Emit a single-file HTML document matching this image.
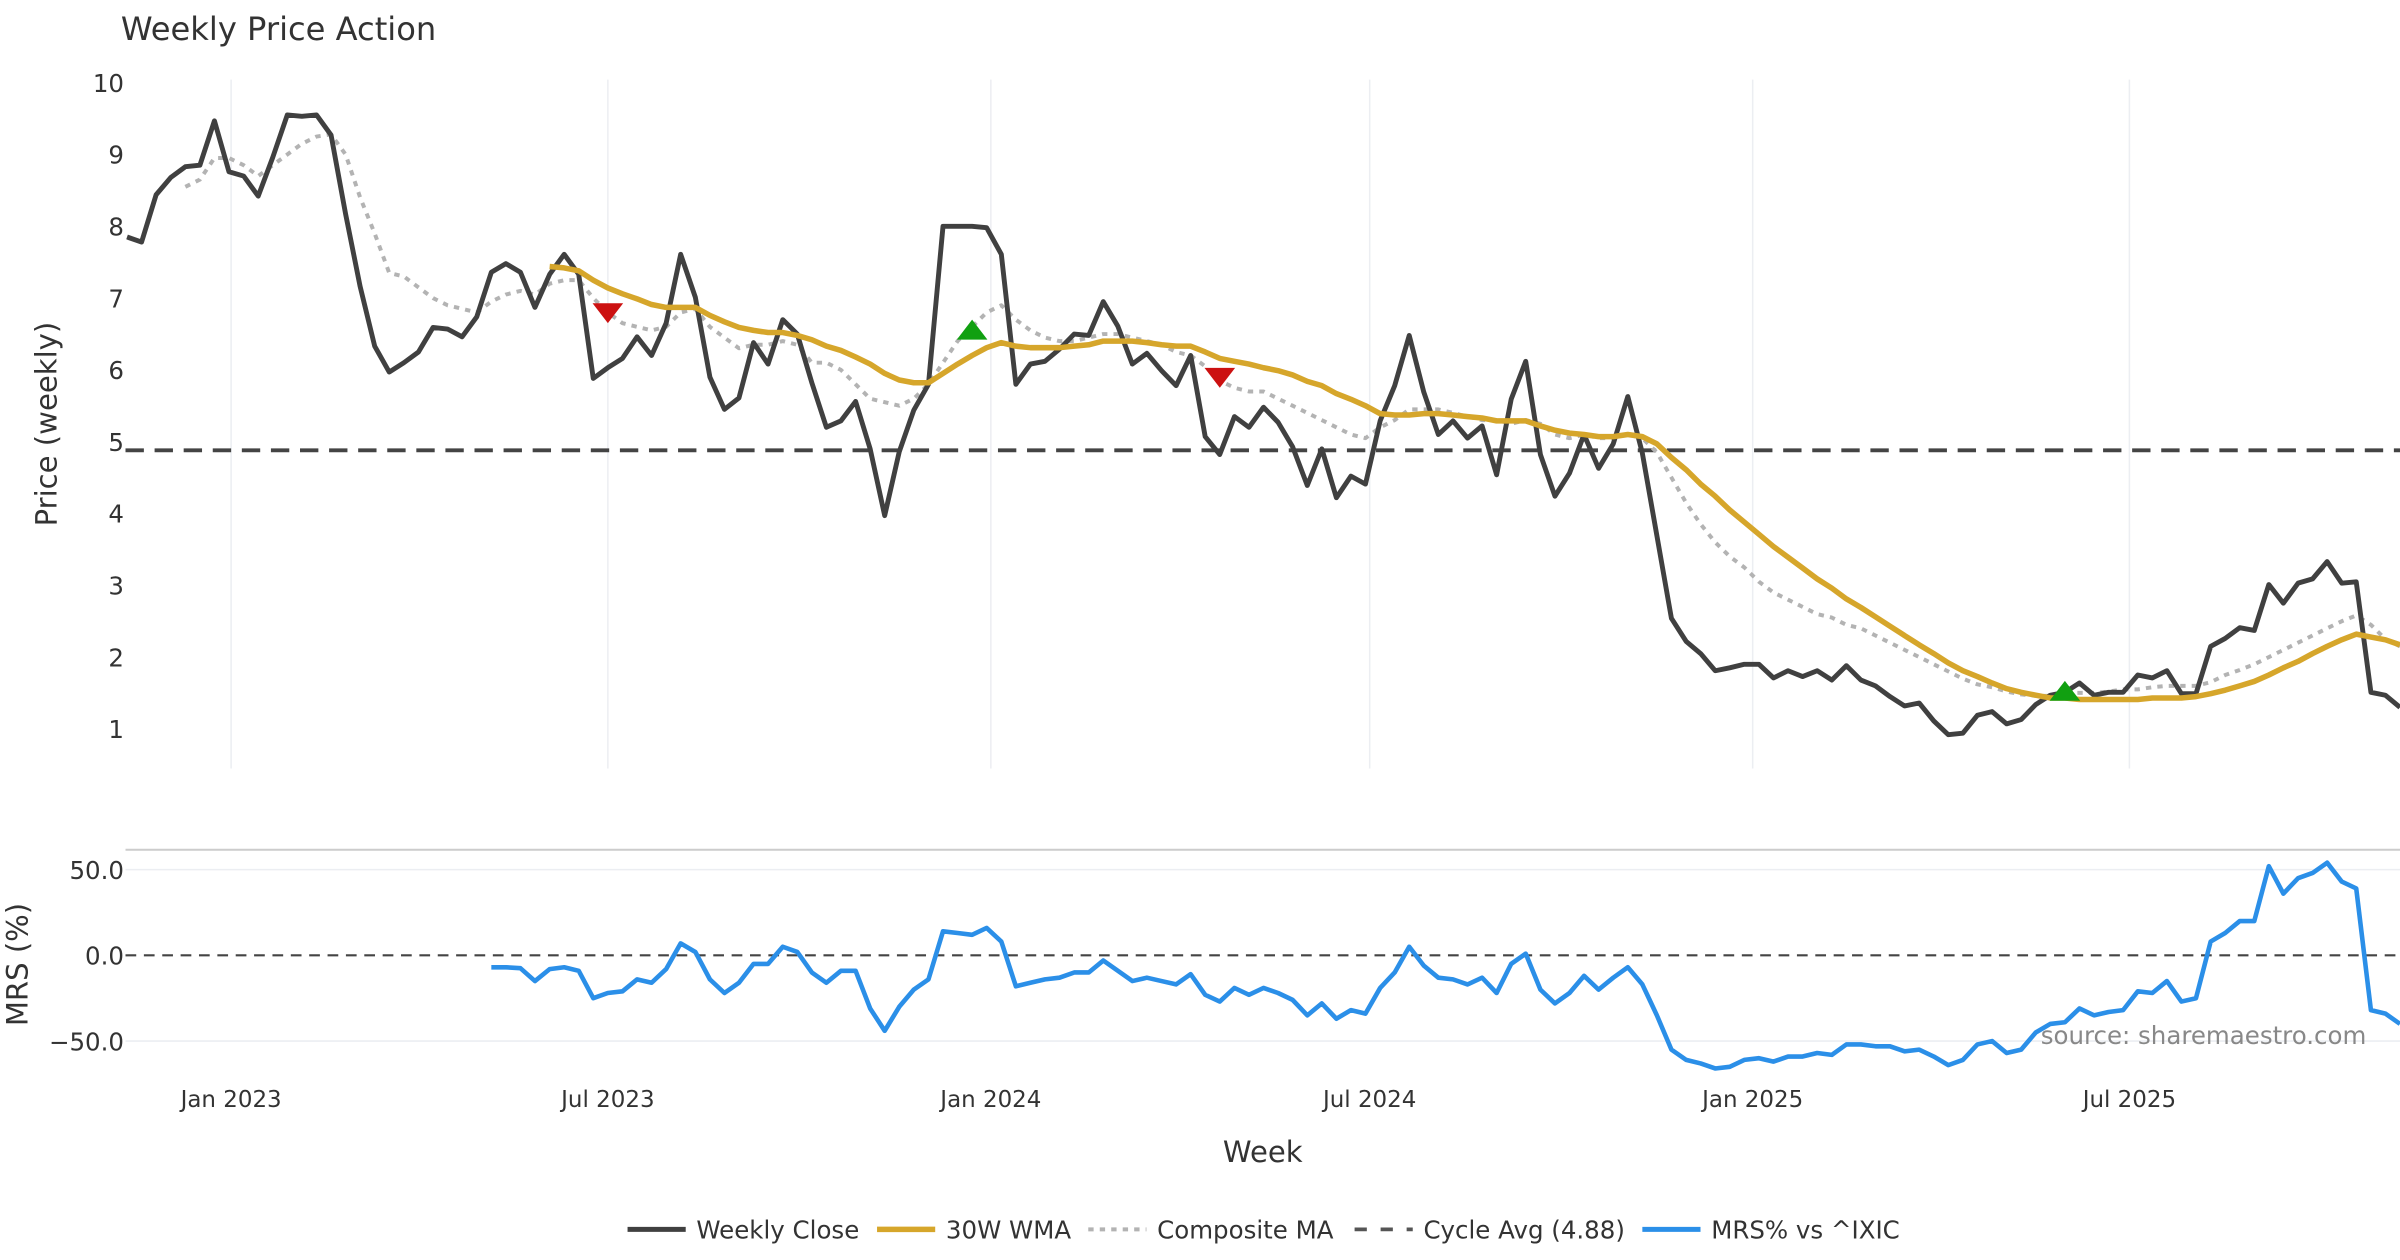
<!DOCTYPE html>
<html><head><meta charset="utf-8"><style>
html,body{margin:0;padding:0;background:#fff;}
svg{display:block;font-family:"DejaVu Sans","Liberation Sans",sans-serif;}
</style></head><body>
<svg id="chart" width="2400" height="1260" viewBox="0 0 1568 823" preserveAspectRatio="none" xmlns="http://www.w3.org/2000/svg">
<text x="79" y="26" font-size="21" fill="#333">Weekly Price Action</text>
<g id="grid"></g>
<g id="axes"></g>
<g id="series"></g>
<g id="legend"></g>
</svg>
<script>
const closes=[7.85,7.78,8.44,8.68,8.83,8.85,9.47,8.76,8.7,8.42,8.96,9.55,9.53,9.55,9.27,8.17,7.16,6.33,5.97,6.1,6.25,6.59,6.57,6.46,6.74,7.36,7.48,7.36,6.87,7.33,7.61,7.33,5.88,6.03,6.16,6.46,6.2,6.65,7.61,7.01,5.9,5.45,5.61,6.38,6.08,6.7,6.5,5.82,5.2,5.29,5.56,4.9,3.97,4.86,5.44,5.8,8.0,8.0,8.0,7.98,7.61,5.8,6.08,6.12,6.29,6.5,6.48,6.95,6.61,6.08,6.23,5.99,5.78,6.2,5.07,4.82,5.35,5.2,5.48,5.27,4.93,4.39,4.9,4.22,4.52,4.41,5.29,5.78,6.48,5.69,5.1,5.29,5.05,5.22,4.54,5.59,6.12,4.82,4.24,4.56,5.1,4.63,4.97,5.63,4.84,3.69,2.54,2.22,2.05,1.81,1.85,1.9,1.9,1.71,1.81,1.73,1.81,1.68,1.88,1.68,1.6,1.45,1.32,1.36,1.11,0.92,0.94,1.19,1.24,1.07,1.13,1.34,1.47,1.51,1.64,1.47,1.51,1.51,1.75,1.71,1.81,1.49,1.49,2.15,2.26,2.41,2.37,3.01,2.75,3.03,3.09,3.33,3.03,3.05,1.51,1.47,1.3];
const wma=[7.44,7.42,7.38,7.25,7.14,7.06,6.99,6.91,6.87,6.87,6.87,6.76,6.67,6.59,6.55,6.52,6.52,6.48,6.42,6.33,6.27,6.18,6.08,5.95,5.86,5.82,5.82,5.95,6.08,6.2,6.31,6.38,6.33,6.31,6.31,6.31,6.33,6.35,6.4,6.4,6.4,6.38,6.35,6.33,6.33,6.25,6.16,6.12,6.08,6.03,5.99,5.93,5.84,5.78,5.67,5.59,5.5,5.39,5.37,5.37,5.39,5.39,5.37,5.35,5.33,5.29,5.29,5.29,5.22,5.16,5.12,5.1,5.07,5.07,5.1,5.07,4.97,4.78,4.61,4.41,4.24,4.05,3.88,3.71,3.54,3.39,3.24,3.09,2.96,2.81,2.69,2.56,2.43,2.3,2.17,2.05,1.92,1.81,1.73,1.64,1.56,1.51,1.47,1.43,1.43,1.41,1.41,1.41,1.41,1.41,1.43,1.43,1.43,1.45,1.49,1.54,1.6,1.66,1.75,1.85,1.94,2.05,2.15,2.24,2.32,2.28,2.24,2.17];
const composite=[8.55,8.65,8.95,8.95,8.85,8.7,8.85,9.0,9.15,9.25,9.28,9.0,8.4,7.9,7.35,7.3,7.15,7.0,6.9,6.85,6.8,6.95,7.05,7.1,7.05,7.2,7.25,7.25,7.0,6.8,6.65,6.6,6.55,6.6,6.8,6.85,6.6,6.45,6.3,6.35,6.35,6.4,6.35,6.1,6.1,6.0,5.8,5.6,5.55,5.5,5.6,5.8,6.1,6.4,6.6,6.8,6.9,6.7,6.55,6.45,6.4,6.4,6.45,6.5,6.5,6.45,6.4,6.35,6.25,6.2,6.05,5.85,5.75,5.7,5.7,5.6,5.5,5.4,5.3,5.2,5.1,5.05,5.2,5.3,5.45,5.45,5.45,5.4,5.35,5.3,5.3,5.25,5.3,5.25,5.1,5.05,5.1,5.05,5.05,5.1,5.05,4.85,4.5,4.15,3.85,3.6,3.4,3.25,3.05,2.9,2.8,2.7,2.6,2.55,2.45,2.4,2.3,2.2,2.1,2.0,1.9,1.8,1.7,1.62,1.58,1.52,1.48,1.46,1.46,1.5,1.5,1.5,1.52,1.55,1.55,1.58,1.6,1.6,1.6,1.65,1.75,1.82,1.9,2.0,2.1,2.2,2.3,2.4,2.5,2.58,2.45,2.25,2.15];
const mrs=[-7,-7,-7.5,-15,-8,-7,-9,-25,-22,-21,-14,-16,-8,7,2,-14,-22,-16,-5,-5,5,2,-10,-16,-9,-9,-31,-44,-30,-20,-14,14,13,12,16,8,-18,-16,-14,-13,-10,-10,-3,-9,-15,-13,-15,-17,-11,-23,-27,-19,-23,-19,-22,-26,-35,-28,-37,-32,-34,-19,-10,5,-6,-13,-14,-17,-13,-22,-5,1,-20,-28,-22,-12,-20,-13,-7,-17,-35,-55,-61,-63,-66,-65,-61,-60,-62,-59,-59,-57,-58,-52,-52,-53,-53,-56,-55,-59,-64,-61,-52,-50,-57,-55,-45,-40,-39,-31,-35,-33,-32,-21,-22,-15,-27,-25,8,13,20,20,52,36,45,48,54,43,39,-32,-34,-40];
const cycleAvg=4.88;
const priceTicks=[1,2,3,4,5,6,7,8,9,10];
const mrsTicks=[50,0,-50];
const mrsTickLabels=["50.0","0.0","\u221250.0"];
const dateTicks=["2023-01-01","2023-07-01","2024-01-01","2024-07-01","2025-01-01","2025-07-01"];
const dateTickLabels=["Jan 2023","Jul 2023","Jan 2024","Jul 2024","Jan 2025","Jul 2025"];
const startDate="2022-11-12";
const sellIdx=[33,75], sellPrice=[6.8,5.9];
const buyIdx=[58,133], buyPrice=[6.55,1.52];

const NS="http://www.w3.org/2000/svg";
const n=closes.length, X0=83, X1=1568, step=(X1-X0)/(n-1);
const x=i=>X0+i*step;
const xDate=d=>x((new Date(d)-new Date(startDate))/86400000/7);
const yP=v=>54+(10-v)*46.9;
const yM=v=>624-v*1.12;
function el(tag,attrs,parent){const e=document.createElementNS(NS,tag);for(const k in attrs)e.setAttribute(k,attrs[k]);parent.appendChild(e);return e;}
const grid=document.getElementById('grid'),axes=document.getElementById('axes'),ser=document.getElementById('series'),leg=document.getElementById('legend');

dateTicks.forEach((d,k)=>{
  const gx=xDate(d);
  const g1=el('line',{x1:gx,x2:gx,y1:52,y2:502,stroke:'#eceef2','stroke-width':1},grid);
  
  
  const t=el('text',{x:gx,y:723,'font-size':15,fill:'#333','text-anchor':'middle'},axes);
  t.textContent=dateTickLabels[k];
  
  
});
priceTicks.forEach(v=>{
  const t=el('text',{x:81,y:yP(v)+6,'font-size':16,fill:'#333','text-anchor':'end'},axes);
  t.textContent=v;
  
  
});
mrsTicks.forEach((v,k)=>{
  if(v!==0){const gl=el('line',{x1:82,x2:1568,y1:yM(v),y2:yM(v),stroke:'#eceef2','stroke-width':1},grid);
  
  }
  const t=el('text',{x:81,y:yM(v)+6,'font-size':16,fill:'#333','text-anchor':'end'},axes);
  t.textContent=mrsTickLabels[k];
  
  
});
const sep=el('line',{x1:82,x2:1568,y1:555,y2:555,stroke:'#cccccc','stroke-width':1.3},axes);


const yl=el('text',{x:0,y:0,'font-size':19,fill:'#333','text-anchor':'middle',transform:'translate(37,277) rotate(-90)'},axes);
yl.textContent='Price (weekly)';


const yl2=el('text',{x:0,y:0,'font-size':19,fill:'#333','text-anchor':'middle',transform:'translate(18,630) rotate(-90)'},axes);
yl2.textContent='MRS (%)';


const xl=el('text',{x:825,y:759,'font-size':19,fill:'#333','text-anchor':'middle'},axes);
xl.textContent='Week';


const src=el('text',{x:1546,y:682,'font-size':16,fill:'#888','text-anchor':'end'},axes);
src.textContent='source: sharemaestro.com';



const zl=el('line',{x1:82,x2:1568,y1:yM(0),y2:yM(0),stroke:'#444','stroke-width':1.4,'stroke-dasharray':'7,5'},ser);


const cl=el('line',{x1:82,x2:1568,y1:yP(cycleAvg),y2:yP(cycleAvg),stroke:'#444','stroke-width':2.5,'stroke-dasharray':'12,7'},ser);



function path(arr,yf,attrs,name){
  const off=n-arr.length;
  const d=arr.map((v,i)=>(i?'L':'M')+x(i+off).toFixed(1)+','+yf(v).toFixed(1)).join('');
  const p=el('path',Object.assign({d:d,fill:'none','stroke-linejoin':'round'},attrs),ser);
  
  
}
path(composite,yP,{stroke:'#b3b3b3','stroke-width':2.6,'stroke-dasharray':'3.5,4'},'composite-ma-line');
path(closes,yP,{stroke:'#404040','stroke-width':3.2},'weekly-close-line');
path(wma,yP,{stroke:'#d6a62b','stroke-width':3.6},'wma-30w-line');
path(mrs,yM,{stroke:'#2b8fe8','stroke-width':3},'mrs-line');

sellIdx.forEach((ix,k)=>{
  const cx=x(ix),cy=yP(sellPrice[k]);
  const t=el('polygon',{points:`${cx-10},${cy-6} ${cx+10},${cy-6} ${cx},${cy+7}`,fill:'#cc1111'},ser);
  
  
});
buyIdx.forEach((ix,k)=>{
  const cx=x(ix),cy=yP(buyPrice[k]);
  const t=el('polygon',{points:`${cx-10},${cy+6} ${cx+10},${cy+6} ${cx},${cy-7}`,fill:'#11a011'},ser);
  
  
});

const items=[
 {x:410,label:'Weekly Close',stroke:'#404040',dash:'',w:3.2},
 {x:573,label:'30W WMA',stroke:'#d6a62b',dash:'',w:3.6},
 {x:711,label:'Composite MA',stroke:'#b3b3b3',dash:'3.5,4',w:2.6},
 {x:885,label:'Cycle Avg (4.88)',stroke:'#555',dash:'8,9',w:2.5},
 {x:1073,label:'MRS% vs ^IXIC',stroke:'#2b8fe8',dash:'',w:3.2}
];
items.forEach(it=>{
  const g=el('g',{},leg);
  
  
  const a={x1:it.x,x2:it.x+38,y1:803,y2:803,stroke:it.stroke,'stroke-width':it.w};
  if(it.dash)a['stroke-dasharray']=it.dash;
  el('line',a,g);
  const t=el('text',{x:it.x+45,y:809,'font-size':16,fill:'#333'},g);
  t.textContent=it.label;
});
</script>
</body></html>
